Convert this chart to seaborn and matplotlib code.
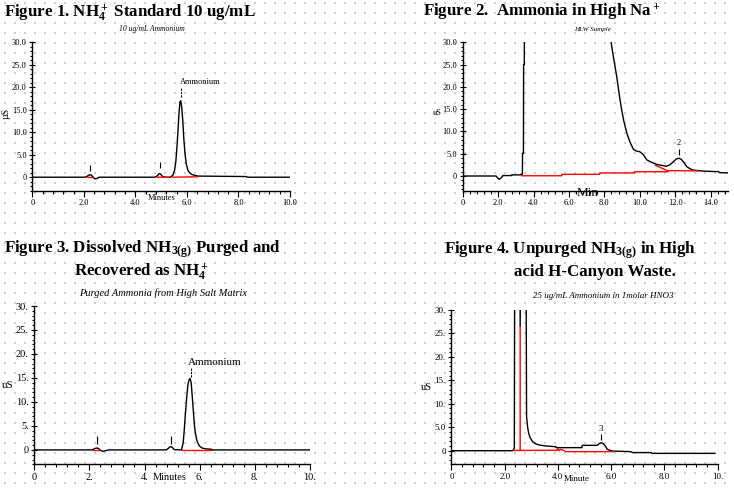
import numpy as np
import matplotlib
matplotlib.use("Agg")
import matplotlib.pyplot as plt
from matplotlib.ticker import FixedLocator
import pandas as pd
import seaborn as sns

# ---------------- data ----------------
# Figure 1 : NH4+ standard 10 ug/mL
f1_time = [0, 2.05, 2.15, 2.22, 2.28, 2.35, 2.42, 2.5, 2.6, 4.75, 4.85, 4.92, 4.97, 5.05, 5.15,
           5.35, 5.45, 5.52, 5.57, 5.61, 5.65, 5.69, 5.73, 5.76, 5.8, 5.84, 5.88, 5.93, 5.98,
           6.04, 6.12, 6.2, 6.3, 6.45, 8.3, 8.35, 10.0]
f1_signal = [0, 0, 0.3, 0.55, 0.5, 0.1, -0.35, -0.3, 0, 0, 0.3, 0.8, 0.75, 0.2, 0,
             0, 0.4, 1.5, 3.5, 6.5, 10, 14, 16.8, 17.0, 15.5, 12.5, 8.5, 5, 2.8,
             1.5, 0.9, 0.6, 0.4, 0.25, 0.15, 0, 0]
f1_base_time = [2.12, 2.36, np.nan, 4.83, 5.28, np.nan, 5.43, 6.44]
f1_base_signal = [0, -0.1, np.nan, 0, 0, np.nan, 0, 0.1]
f1_mark_time = [2.25, 4.95]
f1_mark_lo = [1.3, 2.0]
f1_mark_hi = [2.8, 3.3]
f1_xticks = [0, 2, 4, 6, 8, 10]
f1_xlabels = ["0", "2.0", "4.0", "6.0", "8.0", "10.0"]
f1_yticks = [0, 5, 10, 15, 20, 25, 30]
f1_ylabels = ["0", "5.0", "10.0", "15.0", "20.0", "25.0", "30.0"]

# Figure 2 : ammonia in high Na+
f2_time = [0, 1.88, 1.97, 2.05, 2.15, 2.26, 2.27, 2.76, 2.77, 3.29, 3.3, 3.37, 3.38, 3.43, 3.44,
           3.48, 3.49, 8.3, 8.38, 8.5, 8.7, 8.85, 8.98, 9.1, 9.27, 9.45, 9.64, 9.8, 10.0,
           10.2, 10.4, 10.7, 10.96, 11.2, 11.5, 11.7, 11.9, 12.05, 12.22, 12.35, 12.5,
           12.65, 12.85, 13.0, 13.3, 13.6, 14.2, 14.45, 14.5, 15.0]
f2_signal = [0, 0, -0.4, -0.75, -0.5, 0, 0.1, 0.1, 0.25, 0.25, 0.4, 0.4, 5.1, 5.1, 25,
             25, 60, 60, 30, 27, 22.3, 18, 14.8, 12.3, 9.6, 7.6, 6.0, 5.6, 5.45,
             4.8, 3.6, 3.0, 2.6, 2.4, 2.2, 2.5, 3.2, 3.8, 4.0, 3.7, 3.0,
             2.1, 1.6, 1.35, 1.2, 1.1, 1.0, 1.0, 0.75, 0.7]
f2_base_time = [3.33, 5.6, 5.6, 7.74, 7.74, 9.7, 9.7, 11.6, np.nan, 10.86, 11.56, 13.3]
f2_base_signal = [0.05, 0.05, 0.37, 0.37, 0.68, 0.68, 0.95, 0.95, np.nan, 2.45, 1.2, 1.15]
f2_mark_time = [12.22]
f2_mark_lo = [4.6]
f2_mark_hi = [6.0]
f2_xticks = [0, 2, 4, 6, 8, 10, 12, 14]
f2_xlabels = ["0", "2.0", "4.0", "6.0", "8.0", "10.0", "12.0", "14.0"]
f2_yticks = [0, 5, 10, 15, 20, 25, 30]
f2_ylabels = ["0", "5.0", "10.0", "15.0", "20.0", "25.0", "30.0"]

# Figure 3 : purged NH3 recovered as NH4+
f3_time = [0, 2.1, 2.18, 2.26, 2.33, 2.4, 2.48, 2.56, 2.7, 4.78, 4.86, 4.93, 5.0, 5.08,
           5.34, 5.4, 5.44, 5.48, 5.53, 5.57, 5.61, 5.65, 5.69, 5.73, 5.77, 5.8, 5.84,
           5.89, 5.95, 6.01, 6.1, 6.25, 6.42, 6.45, 10.0]
f3_signal = [0, 0, 0.25, 0.4, 0.3, -0.1, -0.3, -0.2, 0, 0, 0.3, 0.7, 0.55, 0.05,
             0, 1.5, 4.2, 7.5, 11.1, 13.5, 14.6, 14.9, 14.0, 11.1, 8, 5.6, 3.6,
             2.1, 1.2, 0.7, 0.35, 0.2, 0.15, 0, 0]
f3_base_time = [2.14, 2.35, np.nan, 5.34, 6.43]
f3_base_signal = [0, 0, np.nan, 0, 0]
f3_mark_time = [2.27, 4.95]
f3_mark_lo = [1.3, 1.3]
f3_mark_hi = [3.0, 3.0]
f3_xticks = [0, 2, 4, 6, 8, 10]
f3_xlabels = ["0", "2.", "4.", "6.", "8.", "10."]
f3_yticks = [0, 5, 10, 15, 20, 25, 30]
f3_ylabels = ["0", "5.", "10.", "15.", "20.", "25.", "30."]

# Figure 4 : unpurged NH3 in high acid waste
f4_time = [0, 2.3, 2.36, 2.38, 2.4, 2.55, 2.58, 2.61, 2.77, 2.79, 2.82, 2.86, 2.9, 2.95,
           3.05, 3.15, 3.3, 3.55, 3.8, 3.92, 3.93, 4.9, 4.91, 5.47, 5.55, 5.62, 5.7,
           5.78, 5.85, 5.95, 6.04, 6.73, 6.8, 7.5, 7.52, 9.9]
f4_signal = [0, 0, 0.5, 60, 60, 60, 26.5, 60, 60, 60, 7.3, 5.0, 3.7, 2.8,
             1.9, 1.5, 1.2, 1.0, 0.9, 0.85, 0.65, 0.65, 1.14, 1.14, 1.5, 1.7, 1.5,
             1.0, 0.3, 0.1, -0.07, -0.2, -0.4, -0.4, -0.57, -0.57]
f4_base_time = [2.58, 2.58, np.nan, 2.33, 3.98, 4.0, 4.05, 4.1, 4.2, 4.3, 6.1]
f4_base_signal = [26.5, 0.05, np.nan, 0.05, 0.1, 0.5, 0.0, 0.3, 0.1, -0.2, -0.2]
f4_mark_time = [5.62]
f4_mark_lo = [2.3]
f4_mark_hi = [3.5]
f4_xticks = [0, 2, 4, 6, 8, 10]
f4_xlabels = ["0", "2.0", "4.0", "6.0", "8.0", "10."]
f4_yticks = [0, 5, 10, 15, 20, 25, 30]
f4_ylabels = ["0", "5.0", "10.", "15.", "20.", "25.", "30."]

# ---------------- styling ----------------
sns.set_theme(style="ticks")
plt.rcParams['font.family'] = ['Liberation Serif', 'DejaVu Serif']
plt.rcParams['text.color'] = 'black'
plt.rcParams['axes.labelcolor'] = 'black'
plt.rcParams['xtick.color'] = 'black'
plt.rcParams['ytick.color'] = 'black'
plt.rcParams['mathtext.fontset'] = 'custom'
plt.rcParams['mathtext.rm'] = 'Liberation Serif:bold'
plt.rcParams['mathtext.it'] = 'Liberation Serif:bold'
plt.rcParams['mathtext.bf'] = 'Liberation Serif:bold'
plt.rcParams['mathtext.default'] = 'rm'

W, H = 734, 488
fig = plt.figure(figsize=(W / 100, H / 100), dpi=100)
fig.patch.set_facecolor('white')


def fx(x):
    return x / W


def fy(y):
    return 1 - y / H


# dotted background grid
bg = fig.add_axes([0, 0, 1, 1], zorder=0)
bg.set_xlim(0, W)
bg.set_ylim(H, 0)
bg.axis('off')
gx, gy = np.meshgrid(np.arange(5, W, 10), np.arange(3, H, 10))
bg.scatter(gx.ravel(), gy.ravel(), s=0.8, marker='s', c='#cdcdcd', linewidths=0)


def make_ax(left, right, top, bottom, xlim, ylim, xticks, xlabels, yticks, ylabels,
            xminor, yminor, tfs):
    ax = fig.add_axes([fx(left), fy(bottom), (right - left) / W, (bottom - top) / H], zorder=2)
    ax.patch.set_alpha(0)
    ax.set_xlim(*xlim)
    ax.set_ylim(*ylim)
    for s in ['top', 'right']:
        ax.spines[s].set_visible(False)
    for s in ['left', 'bottom']:
        ax.spines[s].set_color('black')
        ax.spines[s].set_linewidth(1.0)
    ax.set_xticks(xticks)
    ax.set_xticklabels(xlabels, fontsize=tfs)
    ax.set_yticks(yticks)
    ax.set_yticklabels(ylabels, fontsize=tfs)
    ax.xaxis.set_minor_locator(FixedLocator(xminor))
    ax.yaxis.set_minor_locator(FixedLocator(yminor))
    ax.tick_params(axis='x', which='major', direction='out', length=4, width=0.8,
                   color='black', pad=2, labelcolor='black')
    ax.tick_params(axis='x', which='minor', direction='out', length=2.5, width=0.8, color='black')
    ax.tick_params(axis='y', which='major', direction='inout', length=4, width=0.8,
                   color='black', pad=2, labelcolor='black')
    ax.tick_params(axis='y', which='minor', direction='out', length=1.8, width=0.8, color='black')
    return ax


def draw(ax, t, v, bt, bv, mt, mlo, mhi):
    sns.lineplot(x=t, y=v, ax=ax, color='black', linewidth=1.0, sort=False, estimator=None)
    ax.plot(bt, bv, color='#ff0000', linewidth=1.0, zorder=3)
    ax.vlines(mt, mlo, mhi, color='black', linewidth=0.8)
    ax.set_xlabel('')
    ax.set_ylabel('')


# ---- Figure 1 ----
ax1 = make_ax(32.3, 290, 42.3, 190.7, (0, 10), (-3, 30), f1_xticks, f1_xlabels, f1_yticks, f1_ylabels,
              np.arange(0, 10.01, 0.4), np.arange(-3, 30.1, 1), 6)
draw(ax1, f1_time, f1_signal, f1_base_time, f1_base_signal, f1_mark_time, f1_mark_lo, f1_mark_hi)
ax1.vlines([5.76], 17.8, 20.0, color='black', linewidth=0.8, linestyles=(0, (2, 1)))
ax1.text(5.74, 20.3, "Ammonium", fontsize=6, ha='left', va='bottom')

# ---- Figure 2 ----
ax2 = make_ax(462.7, 728.3, 42.3, 190.7, (0, 15), (-3.3, 30), f2_xticks, f2_xlabels, f2_yticks, f2_ylabels,
              np.arange(0, 15.01, 0.4), np.arange(-3, 30.1, 1), 6)
draw(ax2, f2_time, f2_signal, f2_base_time, f2_base_signal, f2_mark_time, f2_mark_lo, f2_mark_hi)
ax2.text(12.22, 6.4, "2", fontsize=6, ha='center', va='bottom')

# ---- Figure 3 ----
ax3 = make_ax(34.3, 310, 306, 464.3, (0, 10), (-3, 30), f3_xticks, f3_xlabels, f3_yticks, f3_ylabels,
              np.arange(0, 10.01, 0.4), np.arange(-3, 30.1, 1), 7.5)
draw(ax3, f3_time, f3_signal, f3_base_time, f3_base_signal, f3_mark_time, f3_mark_lo, f3_mark_hi)
ax3.vlines([5.67], 15.3, 17.3, color='black', linewidth=0.8, linestyles=(0, (2, 1)))
ax3.text(5.57, 18.3, "Ammonium", fontsize=8, ha='left', va='center')

# ---- Figure 4 ----
ax4 = make_ax(451.5, 717.7, 310, 464.3, (0, 10), (-2.9, 30), f4_xticks, f4_xlabels, f4_yticks, f4_ylabels,
              np.arange(0, 10.01, 0.4), np.arange(-2, 30.1, 1), 6.5)
draw(ax4, f4_time, f4_signal, f4_base_time, f4_base_signal, f4_mark_time, f4_mark_lo, f4_mark_hi)
ax4.text(5.62, 3.8, "3", fontsize=6.5, ha='center', va='bottom')

# ---- titles, subtitles and axis labels (pixel positions) ----
tfs = 12.2
fig.text(fx(4), fy(13), "Figure 1. NH$_4^+$ Standard 10 ug/mL", fontsize=tfs, fontweight='bold',
         ha='left', va='center')
fig.text(fx(423), fy(12), "Figure 2.  Ammonia in High Na$^+$", fontsize=tfs, fontweight='bold',
         ha='left', va='center')
fig.text(fx(4), fy(249), "Figure 3. Dissolved NH$_{3(g)}$ Purged and", fontsize=tfs, fontweight='bold',
         ha='left', va='center')
fig.text(fx(74), fy(272), "Recovered as NH$_4^+$", fontsize=tfs, fontweight='bold',
         ha='left', va='center')
fig.text(fx(444), fy(250), "Figure 4. Unpurged NH$_{3(g)}$ in High", fontsize=tfs, fontweight='bold',
         ha='left', va='center')
fig.text(fx(514), fy(272), "acid H-Canyon Waste.", fontsize=tfs, fontweight='bold',
         ha='left', va='center')

fig.text(fx(151.7), fy(29), "10 ug/mL Ammonium", fontsize=5.5, style='italic', ha='center', va='center')
fig.text(fx(593), fy(29), "HLW Sample", fontsize=5, style='italic', ha='center', va='center')
fig.text(fx(163), fy(293), "Purged Ammonia from High Salt Matrix", fontsize=7.5, style='italic',
         ha='center', va='center')
fig.text(fx(603), fy(296), "25 ug/mL Ammonium in 1molar HNO3", fontsize=6.5, style='italic',
         ha='center', va='center')

fig.text(fx(6), fy(113), "µS", fontsize=7, rotation=90, ha='center', va='center')
fig.text(fx(161.7), fy(198), "Minutes", fontsize=6, ha='center', va='center')
fig.text(fx(437), fy(113), "uS", fontsize=6, ha='center', va='center')
fig.text(fx(588), fy(193), "Min", fontsize=9.5, ha='center', va='center')
fig.text(fx(8), fy(385), "uS", fontsize=8, ha='center', va='center')
fig.text(fx(170), fy(478), "Minutes", fontsize=7.5, ha='center', va='center')
fig.text(fx(426), fy(387), "uS", fontsize=7.5, ha='center', va='center')
fig.text(fx(577), fy(479), "Minute", fontsize=6.5, ha='center', va='center')

fig.savefig("out.png", dpi=100, facecolor='white')
